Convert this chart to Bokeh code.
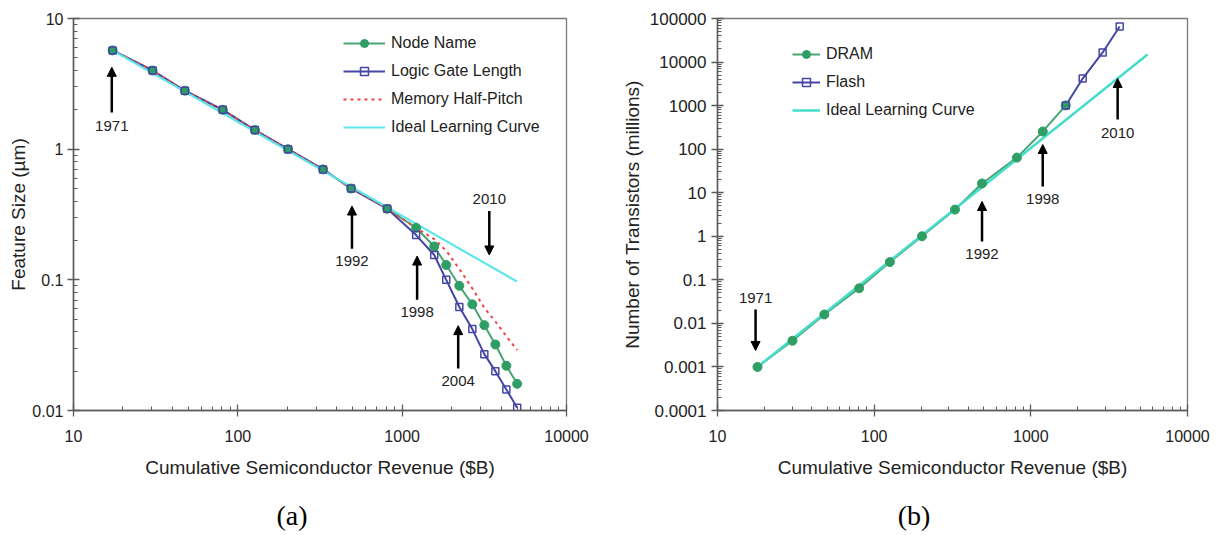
from bokeh.plotting import figure
from bokeh.layouts import row
from bokeh.models import (LogTicker, FixedTicker, CustomJSTickFormatter, Legend, LegendItem,
                          Arrow, NormalHead, Label, LogAxis)
from bokeh.embed import file_html
from bokeh.resources import INLINE

# ---------------- data (a) ----------------
rev_node = [17.3, 30.3, 47.6, 81, 127, 202, 330, 489, 811, 1216, 1567, 1854,
            2228, 2673, 3162, 3690, 4305, 5010]
node_name = [5.7, 4.0, 2.8, 2.0, 1.4, 1.0, 0.7, 0.5, 0.35, 0.25, 0.18, 0.13,
             0.09, 0.065, 0.045, 0.032, 0.022, 0.016]
logic_gate = [5.7, 4.0, 2.8, 2.0, 1.4, 1.0, 0.7, 0.5, 0.35, 0.22, 0.155, 0.10,
              0.062, 0.042, 0.027, 0.020, 0.0145, 0.0105]
memory_half_pitch = [5.7, 4.0, 2.8, 2.0, 1.4, 1.0, 0.7, 0.5, 0.35, 0.25, 0.205,
                     0.167, 0.121, 0.086, 0.061, 0.048, 0.037, 0.029]
ideal_a_x = [17.3, 5000]
ideal_a_y = [5.7, 0.097]

# annotations (a): year, x, arrow tail y, arrow head y, label y
years_a = ["1971", "1992", "1998", "2004", "2010"]
ann_a_x = [17.1, 495, 1233, 2193, 3390]
ann_a_tail = [1.91, 0.173, 0.0703, 0.021, 0.336]
ann_a_head = [4.23, 0.367, 0.152, 0.0446, 0.155]
ann_a_label = [1.5, 0.14, 0.057, 0.0169, 0.415]

# ---------------- data (b) ----------------
rev_dram = [18.0, 30.1, 48.1, 80.2, 126, 202, 328, 488, 815, 1192, 1671]
dram = [0.001, 0.004, 0.016, 0.064, 0.256, 1.0, 4.1, 16.3, 64, 255, 1010]
rev_flash = [1671, 2143, 2875, 3690]
flash = [1010, 4175, 16600, 65500]
ideal_b_x = [18.0, 5560]
ideal_b_y = [0.001, 14900]

years_b = ["1971", "1992", "1998", "2010"]
ann_b_x = [17.5, 488, 1191, 3581]
ann_b_tail = [0.0209, 0.76, 13.9, 480]
ann_b_head = [0.00239, 6.3, 128, 4194]
ann_b_label = [0.0373, 0.382, 7.0, 229]

GREEN = "#2f9e64"
GREEN_LINE = "#48a474"
BLUE = "#4545a5"
RED = "#f04545"
CYAN_A = "#5ce6ea"
CYAN_B = "#45dccb"
TXT = "#222222"
FONT = "Liberation Sans"
NBSP = "\u00a0"

fmt_code = "return String(Number(tick.toPrecision(6)));"


def style(p, ny, xlabel, ylabel, y_label_standoff, y_major_standoff):
    p.xgrid.visible = False
    p.ygrid.visible = False
    p.outline_line_color = "#7a7a7a"
    p.outline_line_width = 1.3
    p.background_fill_color = "white"
    p.border_fill_color = "white"
    for ax, n in ((p.xaxis[0], 4), (p.yaxis[0], ny)):
        ax.ticker = LogTicker(desired_num_ticks=n, mantissas=[1], num_minor_ticks=10)
        ax.formatter = CustomJSTickFormatter(code=fmt_code)
        ax.axis_line_color = "#5a5a5a"
        ax.axis_line_width = 1.5
        ax.major_tick_line_color = "#5a5a5a"
        ax.minor_tick_line_color = "#5a5a5a"
        ax.major_tick_line_width = 1.3
        ax.minor_tick_line_width = 1.0
        ax.major_tick_in = 6
        ax.major_tick_out = 6
        ax.minor_tick_in = 4
        ax.minor_tick_out = 0
        ax.major_label_text_font = FONT
        ax.major_label_text_font_size = "16px"
        ax.major_label_text_color = TXT
        ax.axis_label_text_font = FONT
        ax.axis_label_text_font_size = "19px"
        ax.axis_label_text_font_style = "normal"
        ax.axis_label_text_color = TXT
    p.xaxis[0].axis_label = xlabel
    p.yaxis[0].axis_label = ylabel
    p.xaxis[0].major_label_standoff = 13
    p.xaxis[0].axis_label_standoff = 12
    p.yaxis[0].major_label_standoff = y_major_standoff
    p.yaxis[0].axis_label_standoff = y_label_standoff


def caption(p, text, standoff):
    cap = LogAxis(ticker=FixedTicker(ticks=[]), axis_line_color=None,
                  major_tick_in=0, major_tick_out=0, minor_tick_in=0, minor_tick_out=0,
                  major_label_standoff=0, axis_label=text, axis_label_standoff=standoff,
                  axis_label_text_font="Liberation Serif", axis_label_text_font_size="28px",
                  axis_label_text_font_style="normal", axis_label_text_color="black")
    p.add_layout(cap, "below")


def annotate(p, years, xs, tails, heads, labels):
    for yr, x, t, h, l in zip(years, xs, tails, heads, labels):
        p.add_layout(Arrow(end=NormalHead(size=9, fill_color="black", line_color="black"),
                           x_start=x, y_start=t, x_end=x, y_end=h,
                           line_color="black", line_width=2.5))
        p.add_layout(Label(x=x, y=l, text=yr, text_align="center", text_baseline="middle",
                           text_font=FONT, text_font_size="15px", text_color=TXT))


# ---------------- figure (a) ----------------
pa = figure(x_axis_type="log", y_axis_type="log", x_range=(10, 10000), y_range=(0.01, 10),
            frame_width=493, frame_height=392, min_border_left=73, min_border_right=42,
            min_border_top=18, min_border_bottom=100, output_backend="svg",
            toolbar_location=None)
style(pa, 4, "Cumulative Semiconductor Revenue ($B)", "Feature Size (µm)", 0, 4)

node_line = pa.line(rev_node, node_name, line_color=GREEN_LINE, line_width=2)
logic_line = pa.line(rev_node, logic_gate, line_color=BLUE, line_width=2)
mem_line = pa.line(rev_node, memory_half_pitch, line_color=RED, line_width=2, line_dash="3 4")
ideal_a = pa.line(ideal_a_x, ideal_a_y, line_color=CYAN_A, line_width=2.2)
node_pts = pa.scatter(rev_node, node_name, marker="circle", size=9,
                      fill_color=GREEN, line_color=GREEN)
logic_pts = pa.scatter(rev_node, logic_gate, marker="square", size=7, fill_alpha=0,
                       line_color=BLUE, line_width=1.5)

leg_a = Legend(items=[LegendItem(label="Node Name", renderers=[node_line, node_pts]),
                      LegendItem(label="Logic Gate Length", renderers=[logic_line, logic_pts]),
                      LegendItem(label="Memory Half-Pitch", renderers=[mem_line]),
                      LegendItem(label="Ideal Learning Curve", renderers=[ideal_a])],
               location=(270, 273), padding=0, margin=0, spacing=8, label_height=20,
               glyph_height=20, glyph_width=42, label_standoff=6,
               border_line_alpha=0, background_fill_alpha=0,
               label_text_font=FONT, label_text_font_size="16px", label_text_color=TXT)
pa.add_layout(leg_a)
annotate(pa, years_a, ann_a_x, ann_a_tail, ann_a_head, ann_a_label)
caption(pa, "(a)" + NBSP * 8, 19)

# ---------------- figure (b) ----------------
pb = figure(x_axis_type="log", y_axis_type="log", x_range=(10, 10000),
            y_range=(0.0001, 100000),
            frame_width=470, frame_height=392, min_border_left=109, min_border_right=33,
            min_border_top=18, min_border_bottom=100, output_backend="svg",
            toolbar_location=None)
style(pb, 10, "Cumulative Semiconductor Revenue ($B)", "Number of Transistors (millions)", 4, 5)
pb.yaxis[0].major_label_text_font_size = "17px"

dram_line = pb.line(rev_dram, dram, line_color=GREEN_LINE, line_width=2)
flash_line = pb.line(rev_flash, flash, line_color=BLUE, line_width=2)
ideal_b = pb.line(ideal_b_x, ideal_b_y, line_color=CYAN_B, line_width=2.5)
dram_pts = pb.scatter(rev_dram, dram, marker="circle", size=9, fill_color=GREEN, line_color=GREEN)
flash_pts = pb.scatter(rev_flash, flash, marker="square", size=7, fill_alpha=0,
                       line_color=BLUE, line_width=1.5)

leg_b = Legend(items=[LegendItem(label="DRAM", renderers=[dram_line, dram_pts]),
                      LegendItem(label="Flash", renderers=[flash_line, flash_pts]),
                      LegendItem(label="Ideal Learning Curve", renderers=[ideal_b])],
               location=(75, 290), padding=0, margin=0, spacing=8, label_height=20,
               glyph_height=20, glyph_width=28, label_standoff=6,
               border_line_alpha=0, background_fill_alpha=0,
               label_text_font=FONT, label_text_font_size="16px", label_text_color=TXT)
pb.add_layout(leg_b)
annotate(pb, years_b, ann_b_x, ann_b_tail, ann_b_head, ann_b_label)
caption(pb, "(b)" + NBSP * 11, 19)

layout = row(pa, pb)
open("out.html", "w").write(file_html(layout, INLINE))
